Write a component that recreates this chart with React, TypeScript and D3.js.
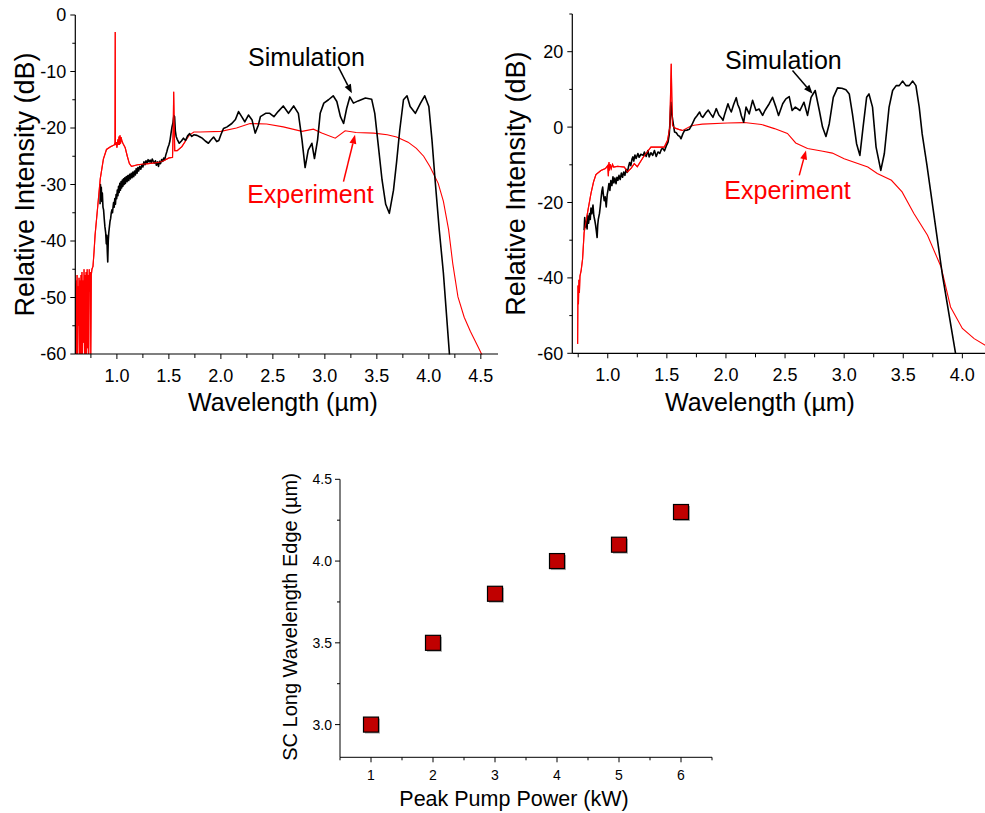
import React from "react";
import * as d3 from "d3";

// ---------- DATA ----------
// Top-left panel: [wavelength µm, relative intensity dB]
const leftExperiment: [number, number][] = [
  [0.600,-47.5],[0.604,-60],[0.608,-47],[0.613,-60],[0.617,-46],[0.622,-60],[0.627,-48],[0.631,-55],[0.636,-46.5],[0.640,-60],
  [0.645,-47],[0.650,-60],[0.655,-46],[0.659,-60],[0.664,-45.5],[0.669,-60],[0.674,-47],[0.679,-58],[0.684,-45],[0.689,-60],
  [0.694,-46],[0.699,-60],[0.704,-45.5],[0.709,-60],[0.714,-45],[0.719,-59],[0.724,-46],[0.729,-60],[0.734,-45],[0.739,-49],
  [0.744,-45.5],[0.749,-60],[0.754,-46],[0.760,-45],[0.770,-44.5],[0.78,-42],[0.79,-39],[0.81,-35],[0.84,-29],[0.87,-25.5],
  [0.90,-23.8],[0.94,-23.3],[0.975,-23],[0.982,-22.5],[0.984,-3],[0.986,-23],[0.995,-22.5],[1.0,-23.5],[1.01,-22],[1.015,-23],
  [1.02,-21.5],[1.025,-23],[1.03,-21.3],[1.035,-22.8],[1.04,-21.6],[1.05,-22.4],[1.06,-22.8],[1.08,-23.5],[1.10,-25],[1.12,-26.3],
  [1.14,-26.8],[1.2,-26.5],[1.3,-26.3],[1.4,-26.1],[1.45,-25.8],[1.50,-25.3],[1.535,-25.2],[1.542,-20],[1.546,-13.6],[1.550,-18],
  [1.556,-24],[1.58,-24],[1.625,-23.3],[1.66,-22.3],[1.70,-21.2],[1.74,-20.7],[1.80,-20.7],[2.0,-20.6],[2.15,-20],[2.28,-19.2],
  [2.44,-19.3],[2.60,-19.8],[2.78,-20.6],[2.89,-20.2],[2.97,-20.9],[3.10,-21.8],[3.195,-20.5],[3.30,-20.8],[3.47,-20.9],[3.60,-21.2],
  [3.69,-21.6],[3.80,-22.5],[3.88,-23.6],[3.95,-25],[4.01,-26.8],[4.09,-29.8],[4.14,-33],[4.19,-38],[4.23,-44],[4.28,-49.9],
  [4.34,-53.5],[4.40,-56],[4.48,-59],[4.52,-60.5],
];
const leftSimulation: [number, number][] = [
  [0.838,-33.5],[0.842,-30],[0.846,-32.5],[0.850,-30.5],[0.855,-33],[0.860,-31.5],[0.866,-34],[0.872,-34.5],[0.878,-36],[0.885,-37.5],
  [0.892,-38.5],[0.898,-40.5],[0.903,-39],[0.908,-42],[0.912,-43.7],[0.917,-40],[0.922,-38.5],[0.928,-37.5],[0.934,-36.5],[0.940,-36],
  [0.946,-35],[0.952,-34.5],[0.958,-35],[0.963,-34],[0.968,-33.2],[0.974,-34],[0.980,-32.5],[0.986,-33.5],[0.992,-31.8],[0.998,-32.5],
  [1.004,-31],[1.010,-32],[1.016,-30.3],[1.022,-31.4],[1.028,-29.8],[1.034,-31],[1.040,-29.5],[1.046,-30.6],[1.052,-29.2],[1.058,-30.3],
  [1.064,-29],[1.070,-30],[1.076,-28.8],[1.082,-29.8],[1.090,-28.6],[1.098,-29.5],[1.106,-28.4],[1.114,-29.3],[1.122,-28.2],[1.130,-29],
  [1.138,-28],[1.146,-28.8],[1.154,-27.8],[1.162,-28.6],[1.170,-27.6],[1.178,-28.3],[1.186,-27.2],[1.194,-28],[1.202,-27],[1.210,-27.6],
  [1.22,-26.8],[1.23,-27.3],[1.24,-26.5],[1.25,-26.9],[1.26,-26],[1.27,-26.5],[1.28,-25.8],[1.29,-26.2],[1.30,-25.6],[1.31,-26],
  [1.32,-25.7],[1.33,-26.1],[1.34,-25.5],[1.35,-25.9],[1.36,-26.2],[1.37,-25.8],[1.38,-26.6],[1.39,-26],[1.40,-26.8],[1.41,-25.9],
  [1.42,-26.3],[1.43,-25.6],[1.44,-25.9],[1.45,-25.3],[1.46,-25.6],[1.47,-24.8],[1.48,-24.2],[1.49,-23.5],[1.50,-23],[1.51,-22.3],
  [1.52,-21],[1.53,-19.8],[1.54,-19],[1.548,-17.8],[1.555,-18],[1.562,-20.5],[1.57,-21.5],[1.58,-22],[1.60,-22.7],[1.62,-22.3],
  [1.64,-21.8],[1.66,-22.2],[1.68,-21.4],[1.70,-21],[1.72,-21.5],[1.74,-21.2],[1.77,-21.3],[1.80,-21.6],[1.82,-21.8],[1.85,-22.3],
  [1.88,-22.7],[1.90,-22.2],[1.93,-21.6],[1.96,-22.4],[1.98,-22.2],[2.0,-21.2],[2.025,-20.1],[2.06,-19.8],[2.105,-19.2],[2.14,-18.5],
  [2.17,-17.1],[2.20,-18],[2.23,-18.9],[2.265,-17.7],[2.30,-18.6],[2.33,-20.9],[2.36,-19.5],[2.38,-18],[2.43,-17.4],[2.47,-17.4],
  [2.51,-18],[2.55,-17.1],[2.60,-16.1],[2.65,-17.4],[2.70,-16.1],[2.745,-17.4],[2.78,-22.1],[2.81,-27],[2.84,-23.9],[2.875,-22.7],
  [2.90,-25.4],[2.93,-22.1],[2.955,-17.4],[2.99,-15.6],[3.035,-15],[3.08,-14.3],[3.115,-15.3],[3.15,-18],[3.18,-19.2],[3.21,-16.5],
  [3.24,-14.5],[3.275,-15.6],[3.32,-15.2],[3.39,-14.7],[3.45,-14.9],[3.48,-17.4],[3.515,-23.3],[3.55,-29.2],[3.585,-33.5],[3.62,-35.1],
  [3.66,-31],[3.69,-26],[3.72,-20.4],[3.756,-15],[3.79,-14.3],[3.82,-16.2],[3.87,-17.4],[3.92,-15.6],[3.96,-14.3],[4.00,-16.2],
  [4.03,-22.1],[4.06,-29.2],[4.10,-38],[4.14,-45.7],[4.20,-60.5],
];

// Top-right panel
const rightExperiment: [number, number][] = [
  [0.745,-57.5],[0.748,-42],[0.752,-47],[0.756,-40.5],[0.760,-44],[0.765,-39.5],[0.775,-38],[0.787,-35],[0.80,-28],[0.83,-22.5],
  [0.858,-17.6],[0.88,-14.5],[0.90,-12.6],[0.942,-11.5],[0.98,-11],[1.0,-10.2],[1.005,-13],[1.01,-9.3],[1.015,-11.5],[1.02,-9.8],
  [1.03,-11],[1.04,-9.9],[1.05,-10.6],[1.083,-10.4],[1.14,-10.6],[1.167,-11.9],[1.20,-10.8],[1.224,-9.7],[1.25,-10.5],[1.30,-8],
  [1.365,-5.3],[1.478,-5.3],[1.506,-3.5],[1.525,0],[1.532,10],[1.537,16.8],[1.542,8],[1.548,0.5],[1.563,-0.2],[1.60,-0.6],
  [1.633,-0.9],[1.70,0.2],[1.73,0.5],[1.80,0.8],[2.01,1.1],[2.155,1.2],[2.30,0.7],[2.41,-0.4],[2.52,-1.7],[2.59,-4.2],
  [2.69,-5.7],[2.82,-6.4],[2.90,-6.9],[3.00,-8.4],[3.20,-10.6],[3.28,-12.3],[3.40,-14.1],[3.49,-17.2],[3.59,-22.9],[3.705,-28.7],
  [3.82,-37.1],[3.90,-47.7],[4.00,-53.4],[4.10,-56.1],[4.2,-58],
];
const rightSimulation: [number, number][] = [
  [0.80,-27.4],[0.805,-24],[0.81,-26.5],[0.818,-25],[0.825,-27],[0.83,-23.5],[0.838,-25.5],[0.846,-22.9],[0.852,-24.5],[0.858,-21.5],
  [0.865,-23],[0.875,-20.7],[0.882,-23.5],[0.89,-24.7],[0.897,-26],[0.903,-27.5],[0.91,-29.3],[0.915,-26],[0.92,-24.5],[0.93,-22.9],
  [0.937,-21],[0.943,-19],[0.95,-17],[0.957,-15.9],[0.963,-18],[0.97,-19.5],[0.978,-18.5],[0.987,-21.2],[0.995,-18],[1.003,-16.5],
  [1.01,-15],[1.018,-16.8],[1.026,-14.2],[1.035,-15.5],[1.044,-13.2],[1.052,-14.8],[1.06,-13.5],[1.07,-15],[1.078,-13.3],[1.086,-14.1],
  [1.095,-12.8],[1.105,-13.9],[1.115,-12.2],[1.125,-13.3],[1.135,-11.9],[1.145,-12.8],[1.155,-11.2],[1.165,-12],[1.175,-10.6],[1.185,-9.4],
  [1.195,-10.2],[1.205,-8.5],[1.213,-7.9],[1.22,-9],[1.23,-7.4],[1.24,-8.3],[1.255,-7],[1.265,-8],[1.28,-7.2],[1.30,-7.5],
  [1.31,-6.6],[1.325,-7.8],[1.34,-6.2],[1.35,-7.9],[1.365,-6.8],[1.38,-7.5],[1.395,-6.2],[1.41,-7.8],[1.425,-6.6],[1.44,-7],
  [1.455,-5.8],[1.467,-5.7],[1.48,-6.3],[1.495,-5],[1.51,-4],[1.52,-2],[1.528,2],[1.534,6.6],[1.54,4],[1.55,1.8],
  [1.565,-1.3],[1.58,-1.5],[1.594,-2.2],[1.61,-2.5],[1.62,-3.1],[1.635,-1.8],[1.65,-0.9],[1.67,-0.8],[1.69,-0.6],[1.71,0.5],
  [1.735,2.2],[1.755,3],[1.777,4],[1.79,3],[1.805,2.6],[1.83,3.8],[1.85,4.5],[1.87,3.5],[1.89,2.6],[1.905,3.8],
  [1.918,4.9],[1.94,3.2],[1.96,2.5],[1.975,1.8],[1.99,3.5],[2.017,6.2],[2.03,5],[2.045,4],[2.065,6],[2.087,7.8],
  [2.10,6],[2.115,4.9],[2.13,3],[2.15,1.3],[2.17,5.3],[2.197,3.5],[2.225,7.1],[2.254,4.4],[2.28,4.8],[2.31,3.1],
  [2.33,4.4],[2.366,6.2],[2.394,7.9],[2.423,5.3],[2.445,3.1],[2.48,6.2],[2.507,7.5],[2.535,8.1],[2.56,4.4],[2.587,5.3],
  [2.626,4.4],[2.66,6.6],[2.69,3.1],[2.72,7.9],[2.755,9.7],[2.79,4.4],[2.817,0],[2.846,-2.5],[2.874,0.9],[2.908,7.9],
  [2.944,10.4],[2.98,10.3],[3.015,9.9],[3.043,8.8],[3.07,3.5],[3.105,-4.4],[3.133,-7.5],[3.16,0],[3.19,7.9],[3.21,8.8],
  [3.24,5.3],[3.27,-5.3],[3.31,-11.5],[3.34,-7],[3.38,5.3],[3.41,9.7],[3.44,11],[3.466,11],[3.494,12.2],[3.523,11],
  [3.55,11],[3.58,12.2],[3.607,11],[3.635,5.3],[3.66,-1.8],[3.70,-10],[3.83,-39],[3.945,-60.5],
];

// Bottom panel
const pumpPower = [1, 2, 3, 4, 5, 6];
const longEdge = [3.0, 3.5, 3.8, 4.0, 4.1, 4.3];

// Tick values
const topLeftXTicks = [1.0, 1.5, 2.0, 2.5, 3.0, 3.5, 4.0, 4.5];
const topLeftYTicks = [0, -10, -20, -30, -40, -50, -60];
const topRightXTicks = [1.0, 1.5, 2.0, 2.5, 3.0, 3.5, 4.0];
const topRightYTicks = [20, 0, -20, -40, -60];
const bottomXTicks = [1, 2, 3, 4, 5, 6];
const bottomYTicks = [3.0, 3.5, 4.0, 4.5];

const FONT = "'Liberation Sans', Arial, Helvetica, sans-serif";

type Scale = d3.ScaleLinear<number, number>;

function Arrow({ x1, y1, x2, y2, color }: { x1: number; y1: number; x2: number; y2: number; color: string }) {
  const ang = Math.atan2(y2 - y1, x2 - x1);
  const L = 9, W = 3.5;
  const bx = x2 - L * Math.cos(ang), by = y2 - L * Math.sin(ang);
  const px = -Math.sin(ang) * W, py = Math.cos(ang) * W;
  return (
    <g>
      <line x1={x1} y1={y1} x2={bx} y2={by} stroke={color} strokeWidth={1.5} />
      <polygon points={`${x2},${y2} ${bx + px},${by + py} ${bx - px},${by - py}`} fill={color} />
    </g>
  );
}

function SpectrumPanel(props: {
  id: string; x: Scale; y: Scale; xTicks: number[]; yTicks: number[]; xMinor: number[]; yMinor: number[];
  exp: [number, number][]; sim: [number, number][];
  simText: [number, number]; simArrow: [number, number, number, number];
  expText: [number, number]; expArrow: [number, number, number, number];
  yTitleX: number; xTitleX: number;
}) {
  const { id, x, y, xTicks, yTicks, xMinor, yMinor, exp, sim } = props;
  const [x0, x1] = x.range();
  const [y0, y1] = y.range(); // y0 bottom, y1 top
  const line = d3.line<[number, number]>().x(d => x(d[0])).y(d => y(d[1]));
  const fmtX = d3.format(".1f");
  return (
    <g>
      <defs>
        <clipPath id={id}>
          <rect x={x0} y={y1} width={x1 - x0} height={y0 - y1 + 0.5} />
        </clipPath>
      </defs>
      <g clipPath={`url(#${id})`}>
        <path d={line(exp) || ""} fill="none" stroke="#ff0000" strokeWidth={1.1} />
        <path d={line(sim) || ""} fill="none" stroke="#000" strokeWidth={1.6} strokeLinejoin="round" />
        <path d={line(exp.filter(d => d[0] < 1.7)) || ""} fill="none" stroke="#ff0000" strokeWidth={1.2} opacity={0.85} />
      </g>
      {/* axes */}
      <line x1={x0} x2={x1} y1={y0} y2={y0} stroke="#000" strokeWidth={1.2} />
      <line x1={x0} x2={x0} y1={y0} y2={y1} stroke="#000" strokeWidth={1.2} />
      {xTicks.map(t => (
        <g key={"xt" + t}>
          <line x1={x(t)} x2={x(t)} y1={y0} y2={y0 + 5} stroke="#000" />
          <text x={x(t)} y={y0 + 28} textAnchor="middle" fontSize={18} fontFamily={FONT}>{fmtX(t)}</text>
        </g>
      ))}
      {xMinor.map(t => <line key={"xm" + t} x1={x(t)} x2={x(t)} y1={y0} y2={y0 + 4} stroke="#000" />)}
      {yTicks.map(t => (
        <g key={"yt" + t}>
          <line x1={x0 - 5} x2={x0} y1={y(t)} y2={y(t)} stroke="#000" />
          <text x={x0 - 9} y={y(t)} dy="0.36em" textAnchor="end" fontSize={18} fontFamily={FONT}>{t}</text>
        </g>
      ))}
      {yMinor.map(t => <line key={"ym" + t} x1={x0 - 3} x2={x0} y1={y(t)} y2={y(t)} stroke="#000" />)}
      <text x={props.xTitleX} y={411} textAnchor="middle" fontSize={25} fontFamily={FONT}>Wavelength (µm)</text>
      <text transform={`translate(${props.yTitleX},${(y0 + y1) / 2}) rotate(-90)`} textAnchor="middle" fontSize={27} fontFamily={FONT}>
        Relative Intensity (dB)
      </text>
      <text x={x(props.simText[0])} y={y(props.simText[1])} fontSize={25} fontFamily={FONT}>Simulation</text>
      <Arrow x1={x(props.simArrow[0])} y1={y(props.simArrow[1])} x2={x(props.simArrow[2])} y2={y(props.simArrow[3])} color="#000" />
      <text x={x(props.expText[0])} y={y(props.expText[1])} fontSize={25} fontFamily={FONT} fill="#ff0000">Experiment</text>
      <Arrow x1={x(props.expArrow[0])} y1={y(props.expArrow[1])} x2={x(props.expArrow[2])} y2={y(props.expArrow[3])} color="#ff0000" />
    </g>
  );
}

export default function App() {
  const xL = d3.scaleLinear().domain([0.6, 4.665]).range([75.3, 498]);
  const yL = d3.scaleLinear().domain([-60, 0]).range([354, 15]);
  const xR = d3.scaleLinear().domain([0.7, 4.2]).range([572.3, 986]);
  const yR = d3.scaleLinear().domain([-60, 30]).range([353.3, 14]);
  const xB = d3.scaleLinear().domain([0.5, 6.5]).range([340, 712]);
  const yB = d3.scaleLinear().domain([2.8, 4.5]).range([757.3, 479.3]);

  const leftXMinor = d3.range(0.75, 4.66, 0.5);
  const leftYMinor = d3.range(-55, 0, 10);
  const rightXMinor = d3.range(0.75, 4.2, 0.5);
  const rightYMinor = [-50, -30, -10, 10, 30];
  const bXMinor = [0.5, 1.5, 2.5, 3.5, 4.5, 5.5, 6.5];
  const bYMinor = [3.25, 3.75, 4.25];

  const pts = pumpPower.map((p, i) => [p, longEdge[i]] as [number, number]);
  const S = 15;

  return (
    <svg width={985} height={813} style={{ position: "absolute", left: 0, top: 0, background: "#fff" }}>
      <rect x={0} y={0} width={985} height={813} fill="#fff" />
      <SpectrumPanel id="clipL" x={xL} y={yL} xTicks={topLeftXTicks} yTicks={topLeftYTicks}
        xMinor={leftXMinor} yMinor={leftYMinor} exp={leftExperiment} sim={leftSimulation}
        simText={[2.262, -8.97]} simArrow={[3.128, -9.15, 3.26, -13.86]}
        expText={[2.253, -33.3]} expArrow={[3.179, -29.5, 3.29, -21.2]} yTitleX={33.5} xTitleX={283} />
      <SpectrumPanel id="clipR" x={xR} y={yR} xTicks={topRightXTicks} yTicks={topRightYTicks}
        xMinor={rightXMinor} yMinor={rightYMinor} exp={rightExperiment} sim={rightSimulation}
        simText={[1.992, 15.47]} simArrow={[2.563, 15.0, 2.733, 8.85]}
        expText={[1.986, -18.97]} expArrow={[2.62, -12.8, 2.677, -6.2]} yTitleX={525} xTitleX={760} />

      {/* bottom panel */}
      <g>
        <line x1={340} x2={712} y1={yB(2.8)} y2={yB(2.8)} stroke="#000" />
        <line x1={xB(0.5)} x2={xB(0.5)} y1={yB(2.8)} y2={yB(4.5)} stroke="#000" />
        {bottomXTicks.map(t => (
          <g key={"bx" + t}>
            <line x1={xB(t)} x2={xB(t)} y1={yB(2.8)} y2={yB(2.8) + 5} stroke="#000" />
            <text x={xB(t)} y={yB(2.8) + 23} textAnchor="middle" fontSize={14} fontFamily={FONT}>{t}</text>
          </g>
        ))}
        {bXMinor.map(t => <line key={"bxm" + t} x1={xB(t)} x2={xB(t)} y1={yB(2.8)} y2={yB(2.8) + 3} stroke="#000" />)}
        {bottomYTicks.map(t => (
          <g key={"by" + t}>
            <line x1={xB(0.5) - 5} x2={xB(0.5)} y1={yB(t)} y2={yB(t)} stroke="#000" />
            <text x={xB(0.5) - 8} y={yB(t)} dy="0.36em" textAnchor="end" fontSize={14} fontFamily={FONT}>{t.toFixed(1)}</text>
          </g>
        ))}
        {bYMinor.map(t => <line key={"bym" + t} x1={xB(0.5) - 3} x2={xB(0.5)} y1={yB(t)} y2={yB(t)} stroke="#000" />)}
        <text x={514} y={806} textAnchor="middle" fontSize={21.5} fontFamily={FONT}>Peak Pump Power (kW)</text>
        <text transform={`translate(297,617) rotate(-90)`} textAnchor="middle" fontSize={20} fontFamily={FONT}>
          SC Long Wavelength Edge (µm)
        </text>
        {pts.map((d, i) => (
          <g key={"m" + i}>
            <rect x={xB(d[0]) - S / 2 + 1.5} y={yB(d[1]) - S / 2 + 1.5} width={S} height={S} fill="#b0b0b0" />
            <rect x={xB(d[0]) - S / 2} y={yB(d[1]) - S / 2} width={S} height={S} fill="#c00000" stroke="#000" strokeWidth={1.2} />
          </g>
        ))}
      </g>
    </svg>
  );
}
